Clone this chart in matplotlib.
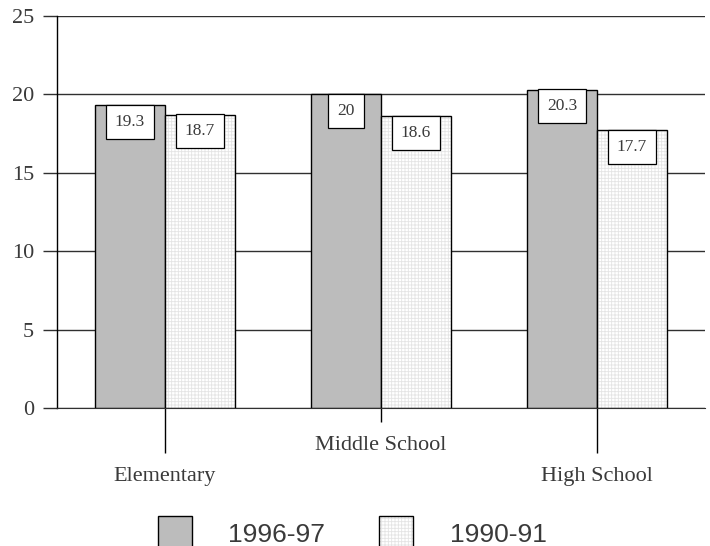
import numpy as np
import matplotlib
matplotlib.use("Agg")
import matplotlib.pyplot as plt
from matplotlib.patches import Rectangle

categories = ["Elementary", "Middle School", "High School"]
series_names = ["1996-97", "1990-91"]
values_9697 = [19.3, 20, 20.3]
values_9091 = [18.7, 18.6, 17.7]
y_ticks = [0, 5, 10, 15, 20, 25]

GRAY = "#bcbcbc"
HATCH_COLOR = "#e4e4e4"
TEXT = "#3a3a3a"
SERIF = ["Liberation Serif", "DejaVu Serif"]
SANS = ["Liberation Sans", "DejaVu Sans"]

plt.rcParams["hatch.linewidth"] = 0.6

fig = plt.figure(figsize=(7.10, 5.46), dpi=100)
W, H = 710.0, 546.0
ax = fig.add_axes([57 / W, 1 - 408 / H, (705 - 57) / W, (408 - 16) / H])

x = np.arange(len(categories))
width = 70 / 216.0

# gray bars (left of each category center)
ax.bar(x - width / 2, values_9697, width, color=GRAY, edgecolor="black",
       linewidth=1, zorder=2)
# patterned bars: hatch layer then outline
ax.bar(x + width / 2, values_9091, width, color="white", edgecolor=HATCH_COLOR,
       linewidth=0, hatch="+++++", zorder=2)
ax.bar(x + width / 2, values_9091, width, fill=False, edgecolor="black",
       linewidth=1, zorder=3)

# value boxes, top edge flush with bar top
pad = 0.52
for xs, vals in [(x - width / 2, values_9697), (x + width / 2, values_9091)]:
    for xi, v in zip(xs, vals):
        ax.annotate("{:g}".format(v), xy=(xi, v), xytext=(0, -pad * 12),
                    textcoords="offset points", ha="center", va="top",
                    fontsize=12.5, family=SERIF, color=TEXT, zorder=5,
                    bbox=dict(boxstyle="square,pad={}".format(pad),
                              facecolor="white", edgecolor="black",
                              linewidth=0.9))

ax.set_xlim(-0.5, 2.5)
ax.set_ylim(0, 25)
ax.set_yticks(y_ticks)
ax.set_yticklabels([str(t) for t in y_ticks], family=SERIF, fontsize=16,
                   color=TEXT)
ax.yaxis.grid(True, color="#303030", linewidth=1)
ax.set_axisbelow(True)
ax.tick_params(axis="y", length=10, width=1, pad=6.5, color="#303030")

# staggered category labels
ax.set_xticks([0, 2])
ax.set_xticklabels([categories[0], categories[2]], family=SERIF, fontsize=16,
                   color=TEXT)
ax.set_xticks([1], [categories[1]], minor=True)
for lab in ax.get_xticklabels(minor=True):
    lab.set_family(SERIF)
    lab.set_fontsize(16)
    lab.set_color(TEXT)
ax.tick_params(axis="x", which="major", length=32.4, width=1, pad=10)
ax.tick_params(axis="x", which="minor", length=10, width=1, pad=10)

for side in ["top", "right"]:
    ax.spines[side].set_visible(False)
ax.spines["bottom"].set_color("#303030")
ax.spines["left"].set_linewidth(1)

# legend drawn along the bottom edge
def fig_rect(x0, y0, w, h, **kw):
    r = Rectangle((x0 / W, 1 - (y0 + h) / H), w / W, h / H,
                  transform=fig.transFigure, **kw)
    fig.add_artist(r)

fig_rect(158, 516, 34, 34, facecolor=GRAY, edgecolor="black", linewidth=1)
fig_rect(379, 516, 34, 34, facecolor="white", edgecolor=HATCH_COLOR,
         linewidth=0, hatch="+++++")
fig_rect(379, 516, 34, 34, fill=False, edgecolor="black", linewidth=1)
fig.text(228 / W, 1 - 535 / H, series_names[0], family=SANS, fontsize=19,
         va="center", ha="left", color=TEXT)
fig.text(450 / W, 1 - 535 / H, series_names[1], family=SANS, fontsize=19,
         va="center", ha="left", color=TEXT)

fig.savefig("out.png", dpi=100)
